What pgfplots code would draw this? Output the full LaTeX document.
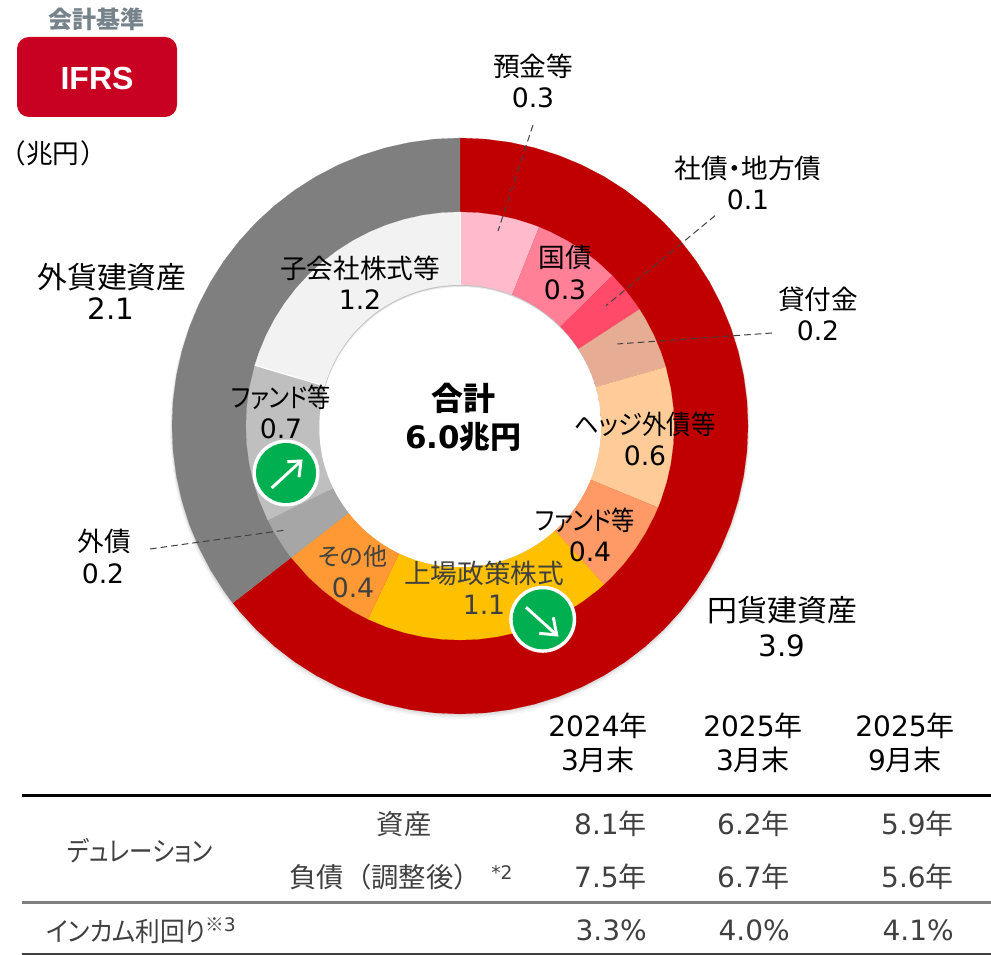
\documentclass[border=0pt]{standalone}
\usepackage{pgfplots}
\pgfplotsset{compat=1.18}
\usepgfplotslibrary{polar}
\usepackage{fontspec}
\setmainfont{DejaVu Sans}
\newfontfamily\J[RawFeature=+palt]{Noto Sans CJK JP}
\newfontfamily\Jf{Noto Sans CJK JP}
\newfontfamily\AR{Liberation Sans}
\definecolor{cRed}{HTML}{C00000}
\definecolor{cGray}{HTML}{7F7F7F}
\definecolor{wA}{HTML}{FFBBCB}
\definecolor{wB}{HTML}{FF8097}
\definecolor{wC}{HTML}{FF4B69}
\definecolor{wD}{HTML}{E6AC94}
\definecolor{wE}{HTML}{FFCC99}
\definecolor{wF}{HTML}{FF9966}
\definecolor{wG}{HTML}{FFC000}
\definecolor{wH}{HTML}{FF9933}
\definecolor{wI}{HTML}{A6A6A6}
\definecolor{wJ}{HTML}{BFBFBF}
\definecolor{wK}{HTML}{F2F2F2}
\definecolor{badge}{HTML}{C80021}
\definecolor{grn}{HTML}{00B050}
\definecolor{txt}{HTML}{404040}
\definecolor{hd}{HTML}{76838B}
% text at reference pixel position: [colour]{size in pt}{x}{y}{text}
\newcommand\C[5][black]{\node[inner sep=0pt,text=#1,anchor=center] at (axis cs:{#3-460},{426-#4}) {\fontsize{#2}{#2}\selectfont #5};}
\newcommand\TR[5][txt]{\node[inner sep=0pt,text=#1,anchor=east] at (axis cs:{#3-460},{426-#4}) {\fontsize{#2}{#2}\selectfont #5};}
\newcommand\TL[5][txt]{\node[inner sep=0pt,text=#1,anchor=west] at (axis cs:{#3-460},{426-#4}) {\fontsize{#2}{#2}\selectfont #5};}
\begin{document}
\begin{tikzpicture}
\begin{axis}[
  anchor=south west, at={(0,0)},
  x=0.75pt, y=0.75pt, scale only axis,
  xmin=-460, xmax=531, ymin=-529, ymax=426,
  hide axis, clip=false,
  every axis plot/.append style={no markers, forget plot, line join=round},
]
% soft shadow under the donut
\fill[black,opacity=.04] (axis cs:0,-3) circle[radius=290];
\fill[black,opacity=.05] (axis cs:0,-2) circle[radius=289];
\fill[black,opacity=.05] (axis cs:0,-1) circle[radius=288.5];
% outer ring: 3.9 / 2.1
\addplot[fill=cRed,draw=cRed,line width=0.1pt,data cs=polar] coordinates {(0,0)
(90,288)(85,288)(80,288)(75,288)(70,288)(65,288)(60,288)(55,288)(50,288)(45,288)(40,288)(35,288)(30,288)(25,288)(20,288)(15,288)(10,288)(5,288)(0,288)
(-5,288)(-10,288)(-15,288)(-20,288)(-25,288)(-30,288)(-35,288)(-40,288)(-45,288)(-50,288)(-55,288)(-60,288)(-65,288)(-70,288)(-75,288)(-80,288)(-85,288)(-90,288)
(-95,288)(-100,288)(-105,288)(-110,288)(-115,288)(-120,288)(-125,288)(-130,288)(-135,288)(-140,288)(-142.1,288)};
\addplot[fill=cGray,draw=cGray,line width=0.1pt,data cs=polar] coordinates {(0,0)
(-142.1,288)(-145,288)(-150,288)(-155,288)(-160,288)(-165,288)(-170,288)(-175,288)(-180,288)(-185,288)(-190,288)(-195,288)(-200,288)(-205,288)(-210,288)(-215,288)(-220,288)(-225,288)(-230,288)(-235,288)(-240,288)(-245,288)(-250,288)(-255,288)(-260,288)(-265,288)(-270,288)};
% inner ring
\addplot[fill=wA,draw=wA,line width=0.1pt,data cs=polar] coordinates {(0,0)(90,214)(85,214)(80,214)(75,214)(70,214)(68.3,214)};
\addplot[fill=wB,draw=wB,line width=0.1pt,data cs=polar] coordinates {(0,0)(68.3,214)(65,214)(60,214)(55,214)(50,214)(44.6,214)};
\addplot[fill=wC,draw=wC,line width=0.1pt,data cs=polar] coordinates {(0,0)(44.6,214)(40,214)(35,214)(33,214)};
\addplot[fill=wD,draw=wD,line width=0.1pt,data cs=polar] coordinates {(0,0)(33,214)(30,214)(25,214)(20,214)(16,214)};
\addplot[fill=wE,draw=wE,line width=0.1pt,data cs=polar] coordinates {(0,0)(16,214)(10,214)(5,214)(0,214)(-5,214)(-10,214)(-15,214)(-20,214)(-22.4,214)};
\addplot[fill=wF,draw=wF,line width=0.1pt,data cs=polar] coordinates {(0,0)(-22.4,214)(-25,214)(-30,214)(-35,214)(-40,214)(-45,214)(-47.8,214)};
\addplot[fill=wG,draw=wG,line width=0.1pt,data cs=polar] coordinates {(0,0)(-47.8,214)(-50,214)(-55,214)(-60,214)(-65,214)(-70,214)(-75,214)(-80,214)(-85,214)(-90,214)(-95,214)(-100,214)(-105,214)(-110,214)(-115.5,214)};
\addplot[fill=wH,draw=wH,line width=0.1pt,data cs=polar] coordinates {(0,0)(-115.5,214)(-120,214)(-125,214)(-130,214)(-135,214)(-142.1,214)};
\addplot[fill=wI,draw=wI,line width=0.1pt,data cs=polar] coordinates {(0,0)(-142.1,214)(-145,214)(-150,214)(-153.9,214)};
\addplot[fill=wJ,draw=wJ,line width=0.1pt,data cs=polar] coordinates {(0,0)(-153.9,214)(-160,214)(-165,214)(-170,214)(-175,214)(-180,214)(-185,214)(-190,214)(-196.5,214)};
\addplot[fill=wK,draw=wK,line width=0.1pt,data cs=polar] coordinates {(0,0)(-196.5,214)(-200,214)(-205,214)(-210,214)(-215,214)(-220,214)(-225,214)(-230,214)(-235,214)(-240,214)(-245,214)(-250,214)(-255,214)(-260,214)(-265,214)(-270,214)};
\addplot[draw=white,line width=0.9pt,data cs=polar] coordinates {(-196.5,141)(-196.5,214)};
\addplot[draw=white,line width=0.6pt,data cs=polar] coordinates {(90,141)(90,214)};
% hole with soft shadow
\begin{scope}
\clip (axis cs:0,0) circle[radius=141];
\fill[black!24] (axis cs:0,0) circle[radius=141.5];
\fill[black!9] (axis cs:0.3,-1) circle[radius=141];
\fill[white] (axis cs:0.5,-2) circle[radius=141];
\end{scope}
% leader lines
\draw[txt,line width=0.75pt,dash pattern=on 5pt off 3pt] (axis cs:73,301)--(axis cs:38,195);
\draw[txt,line width=0.75pt,dash pattern=on 5pt off 3pt] (axis cs:255,210.3)--(axis cs:146,120.3);
\draw[txt,line width=0.75pt,dash pattern=on 5pt off 3pt] (axis cs:312,93)--(axis cs:157.3,82);
\draw[txt,line width=0.75pt,dash pattern=on 5pt off 3pt] (axis cs:-310,-123)--(axis cs:-174,-104);
% accounting badge
\C[hd]{18}{96.5}{19}{\J\bfseries 会計基準}
\fill[badge,rounded corners=9pt] (axis cs:-443,389) rectangle (axis cs:-283,309);
\C[white]{24}{97}{78}{\AR\bfseries IFRS}
\C{20}{53}{153}{\J（\kern1.2pt 兆円\kern1.2pt ）}
% labels
\C{22.4}{112}{277}{\Jf 外貨建資産}
\C{22}{111}{309}{2.1}
\C{22.4}{782.5}{610}{\Jf 円貨建資産}
\C{22}{782}{646}{3.9}
\C{20}{533}{66}{\Jf 預金等}
\C{20}{533}{98}{0.3}
\C{20}{748}{168}{\J 社債・地方債}
\C{20}{748}{200}{0.1}
\C{20}{818}{299}{\Jf 貸付金}
\C{20}{818}{331}{0.2}
\C{20}{565}{257}{\Jf 国債}
\C{20}{565}{290}{0.3}
\C{20}{645}{424}{\scalebox{.915}[1]{\J ヘッジ外債等}}
\C{20}{645}{456}{0.6}
\C{20}{585}{520}{\scalebox{.87}[1]{\J ファンド等}}
\C{20}{590}{552}{0.4}
\C[txt]{20}{484}{573}{\Jf 上場政策株式}
\C[txt]{20}{484}{605}{1.1}
\C[txt]{18}{353}{556}{\J その他}
\C[txt]{20}{353}{588}{0.4}
\C{20}{281}{397}{\scalebox{.87}[1]{\J ファンド等}}
\C{20}{281}{429}{0.7}
\C{20}{360}{268}{\Jf 子会社株式等}
\C{20}{360}{300}{1.2}
\C{20}{104}{541}{\Jf 外債}
\C{20}{103}{574}{0.2}
\C{24}{463}{398}{\Jf\bfseries 合計}
\C{23.2}{463.5}{437}{\bfseries 6.0{\Jf\bfseries 兆円}}
% trend markers
\fill[white] (axis cs:-174,-47) circle[radius=33.5];
\fill[grn] (axis cs:-174,-47) circle[radius=30];
\draw[white,line width=2.2pt] (axis cs:-188.3,-62)--(axis cs:-159,-35);
\draw[white,line width=2.2pt,miter limit=10] (axis cs:-172.7,-35.7)--(axis cs:-159,-35)--(axis cs:-161,-51.3);
\fill[white] (axis cs:82.7,-193.3) circle[radius=33.5];
\fill[grn] (axis cs:82.7,-193.3) circle[radius=30];
\draw[white,line width=2.2pt] (axis cs:66,-181.3)--(axis cs:96.7,-209);
\draw[white,line width=2.2pt,miter limit=10] (axis cs:93.3,-191.3)--(axis cs:96.7,-209)--(axis cs:79.3,-207.3);
% table headers
\C{21}{598}{726}{2024{\Jf 年}}
\C{21}{598}{760}{3{\Jf 月末}}
\C{21}{753}{726}{2025{\Jf 年}}
\C{21}{753}{760}{3{\Jf 月末}}
\C{21}{905}{726}{2025{\Jf 年}}
\C{21}{905}{760}{9{\Jf 月末}}
% table rules
\draw[black,line width=2.4pt] (axis cs:-438,-369.5)--(axis cs:531,-369.5);
\draw[cGray,line width=2.4pt] (axis cs:-438,-476.5)--(axis cs:531,-476.5);
\draw[txt,line width=1.2pt] (axis cs:-438,-528)--(axis cs:531,-528);
% table rows
\C[txt]{17.5}{140}{851}{\scalebox{.86}[1]{\fontsize{20.5}{20.5}\selectfont\J デュレーション}}
\C[txt]{20.5}{404}{824}{\Jf 資産}
\C[txt]{20.5}{385}{877}{\Jf 負債（調整後）}
\TL[txt]{14}{491}{873}{*2}
\TL[txt]{18.5}{46}{931}{\scalebox{.925}[1]{\fontsize{20}{20}\selectfont\J インカム利回り}}
\TL[txt]{14}{205}{925}{{\Jf ※}3}
\TR{21}{647}{824}{8.1{\Jf 年}}
\TR{21}{790}{824}{6.2{\Jf 年}}
\TR{21}{954}{824}{5.9{\Jf 年}}
\TR{21}{647}{877}{7.5{\Jf 年}}
\TR{21}{790}{877}{6.7{\Jf 年}}
\TR{21}{954}{877}{5.6{\Jf 年}}
\TR{21}{647}{930}{3.3\%}
\TR{21}{790}{930}{4.0\%}
\TR{21}{954}{930}{4.1\%}
\end{axis}
\pgfresetboundingbox
\path[use as bounding box] (0,0) rectangle (743.25pt,716.25pt);
\end{tikzpicture}
\end{document}
